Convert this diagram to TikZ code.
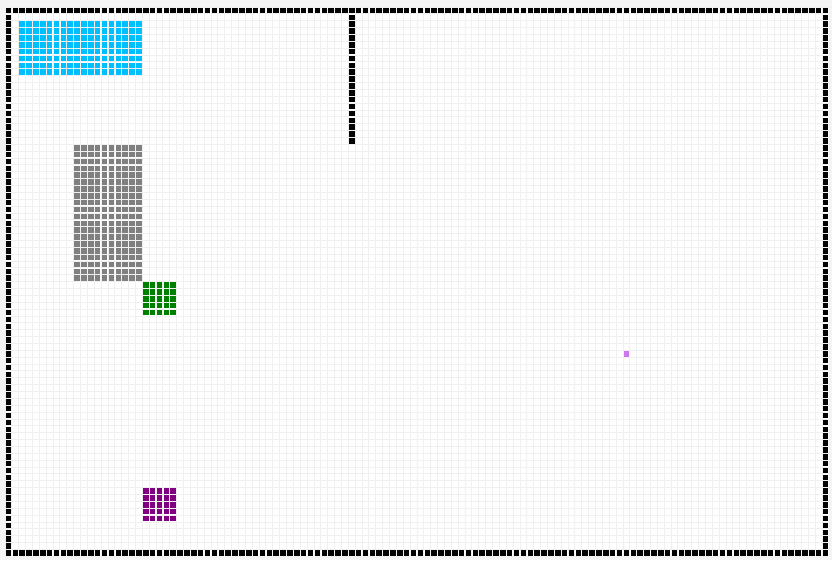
\documentclass[tikz,border=0pt]{standalone}
\usepackage{tikz}
\definecolor{bggray}{RGB}{244,244,244}
\definecolor{gridgray}{RGB}{240,240,240}
\definecolor{startblue}{RGB}{0,191,255}
\definecolor{blockgray}{RGB}{128,128,128}
\definecolor{goalgreen}{RGB}{0,128,0}
\definecolor{trappurple}{RGB}{128,0,128}
\definecolor{agentpink}{RGB}{204,119,238}
\tikzset{
    grid line/.style={draw=gridgray,line width=0.6pt},
}
% one square of the world, column #2, row #3
\newcommand{\cellfill}[3]{\fill[#1] (#2+0.1,-#3-0.1) rectangle (#2+0.9,-#3-0.9);}

\begin{document}
\begin{tikzpicture}[scale=0.15]
		\fill[bggray] (-0.728,1.02) rectangle (120.44,-80.58);
		\useasboundingbox (-0.728,1.02) rectangle (120.44,-80.58);
		\fill[white] (0,0) rectangle (120,-80);
		\draw[grid line,step=1] (0,0) grid (120,-80);

		% walls
		\foreach \i in {0,...,119} {
			\cellfill{black}{\i}{0}
			\cellfill{black}{\i}{79}
		}
		\foreach \j in {1,...,78} {
			\cellfill{black}{0}{\j}
			\cellfill{black}{119}{\j}
		}
		\foreach \j in {1,...,19} {\cellfill{black}{50}{\j}}

		% blocks
		\foreach \i in {2,...,19} {\foreach \j in {2,...,9} {\cellfill{startblue}{\i}{\j}}}
		\foreach \i in {10,...,19} {\foreach \j in {20,...,39} {\cellfill{blockgray}{\i}{\j}}}
		\foreach \i in {20,...,24} {\foreach \j in {40,...,44} {\cellfill{goalgreen}{\i}{\j}}}
		\foreach \i in {20,...,24} {\foreach \j in {70,...,74} {\cellfill{trappurple}{\i}{\j}}}
		\cellfill{agentpink}{90}{50}
	\end{tikzpicture}
\end{document}
